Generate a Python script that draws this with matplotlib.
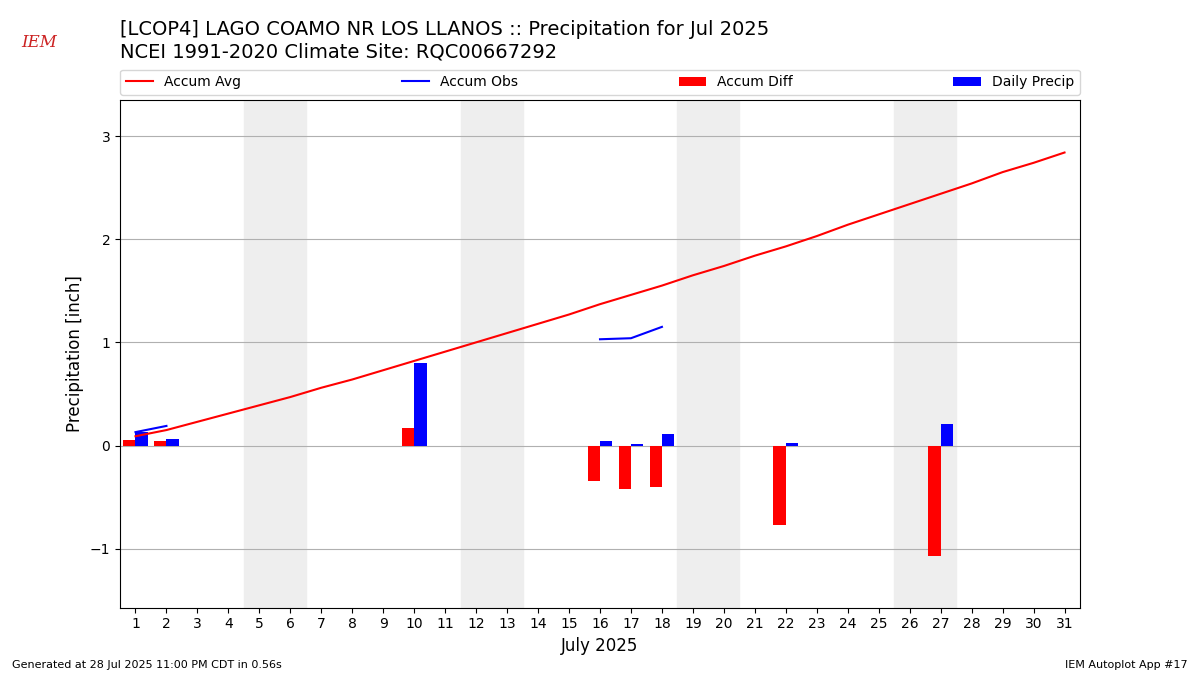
import numpy as np
import matplotlib
matplotlib.use("Agg")
import matplotlib.pyplot as plt

days = np.arange(1, 32)
accum_avg = [0.09, 0.15, 0.23, 0.31, 0.39, 0.47, 0.56, 0.64, 0.73, 0.82,
             0.91, 1.00, 1.09, 1.18, 1.27, 1.37, 1.46, 1.55, 1.65, 1.74,
             1.84, 1.93, 2.03, 2.14, 2.24, 2.34, 2.44, 2.54, 2.65, 2.74, 2.84]
obs_days = [1, 2, None, 16, 17, 18]
obs_vals = [0.13, 0.19, np.nan, 1.03, 1.04, 1.15]
precip_days = [1, 2, 10, 16, 17, 18, 22, 27]
daily_precip = [0.13, 0.06, 0.80, 0.04, 0.01, 0.11, 0.02, 0.21]
accum_diff = [0.05, 0.04, 0.17, -0.34, -0.42, -0.40, -0.77, -1.07]
weekends = [5, 12, 19, 26]

fig = plt.figure(figsize=(12, 6.75), dpi=100)
ax = fig.add_axes([0.1, 0.1, 0.8, 0.752])

for w in weekends:
    ax.axvspan(w - 0.5, w + 1.5, color="#eeeeee", zorder=0)

ax.plot(days, accum_avg, color="r", label="Accum Avg", zorder=3)
ox = [d if d is not None else np.nan for d in obs_days]
ax.plot(ox, obs_vals, color="b", label="Accum Obs", zorder=3)
pd_arr = np.array(precip_days)
ax.bar(pd_arr - 0.4, accum_diff, width=0.4, align="edge", color="r", label="Accum Diff", zorder=2)
ax.bar(pd_arr, daily_precip, width=0.4, align="edge", color="b", label="Daily Precip", zorder=2)

ax.set_xlim(0.5, 31.5)
ax.set_ylim(-1.57, 3.35)
ax.set_xticks(days)
ax.set_yticks([-1, 0, 1, 2, 3])
ax.grid(axis="y", zorder=1)
ax.set_axisbelow(True)
ax.set_xlabel("July 2025", fontsize=12)
ax.set_ylabel("Precipitation [inch]", fontsize=12)

ax.legend(loc="lower left", bbox_to_anchor=(0, 1.01, 1, 0.05), ncol=4, mode="expand",
          borderaxespad=0, fontsize=10)

fig.text(0.1, 0.94, "[LCOP4] LAGO COAMO NR LOS LLANOS :: Precipitation for Jul 2025\nNCEI 1991-2020 Climate Site: RQC00667292",
         fontsize=14, va="center")
fig.text(0.018, 0.93, "IEM", fontsize=12, color="#cc2222", fontfamily="serif", style="italic")
fig.text(0.01, 0.01, "Generated at 28 Jul 2025 11:00 PM CDT in 0.56s", fontsize=8)
fig.text(0.99, 0.01, "IEM Autoplot App #17", fontsize=8, ha="right")

fig.savefig("out.png")
